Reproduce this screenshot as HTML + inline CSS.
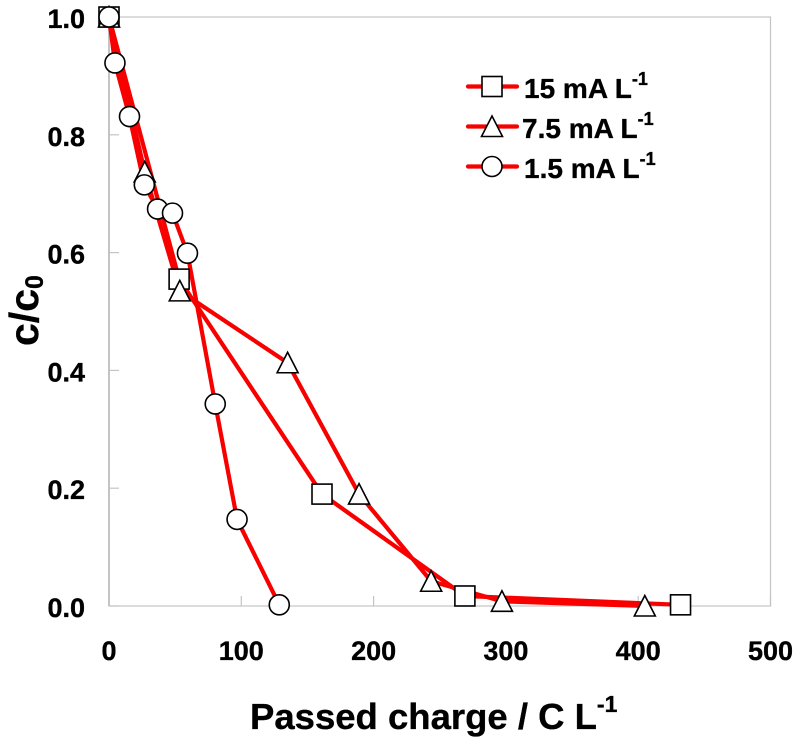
<!DOCTYPE html>
<html lang="en">
<head>
<meta charset="utf-8">
<title>Passed charge chart</title>
<style>
html,body{margin:0;padding:0;background:#fff;}
svg{display:block;}
text{font-family:"Liberation Sans",Arial,sans-serif;font-weight:bold;fill:#000;stroke:#000;stroke-width:0.35px;}
</style>
</head>
<body>
<svg id="chart" xmlns="http://www.w3.org/2000/svg" width="800" height="744" viewBox="0 0 800 744">
  <rect width="800" height="744" fill="#fff"/>
  <g id="axes"></g>
  <g id="lines"></g>
  <g id="markers"></g>
  <g id="legend"></g>
  <text x="250" y="729" font-size="36.5">Passed charge / C L<tspan font-size="23" dy="-17">-1</tspan></text>
  <text transform="translate(38,346) rotate(-90)" font-size="41">c/c<tspan font-size="25" dy="5">0</tspan></text>
</svg>
<script>
const xTicks = [0, 100, 200, 300, 400, 500];
const yTicks = [0, 0.2, 0.4, 0.6, 0.8, 1.0];
const seriesNames = ['15 mA L', '7.5 mA L', '1.5 mA L'];
const seriesShapes = ['square', 'triangle', 'circle'];
const x15 = [0, 53, 161, 269, 432];
const y15 = [1.0, 0.555, 0.19, 0.017, 0.002];
const x75 = [0, 27, 53.5, 135, 189, 243.5, 297, 405];
const y75 = [1.0, 0.737, 0.535, 0.413, 0.19, 0.042, 0.008, 0.0];
const x15b = [0, 4.5, 15.5, 26.7, 36.7, 48, 59.3, 80.3, 96.8, 128.7];
const y15b = [1.0, 0.922, 0.831, 0.715, 0.674, 0.667, 0.599, 0.343, 0.147, 0.002];

const NS = 'http://www.w3.org/2000/svg';
const sx = v => 109 + v * (661.5 / 500);
const sy = v => 606 - v * 589;

function mk(parent, tag, attrs) {
  const el = document.createElementNS(NS, tag);
  for (const k in attrs) el.setAttribute(k, attrs[k]);
  parent.appendChild(el);
  return el;
}

function drawMarker(parent, shape, cx, cy) {
  const style = { fill: '#fff', stroke: '#000', 'stroke-width': 1.6 };
  let el;
  if (shape === 'square') {
    el = mk(parent, 'rect', Object.assign({ x: cx - 10, y: cy - 10, width: 20, height: 20 }, style));
  } else if (shape === 'triangle') {
    el = mk(parent, 'polygon', Object.assign({ points: (cx) + ',' + (cy - 10.5) + ' ' + (cx + 10.5) + ',' + (cy + 10) + ' ' + (cx - 10.5) + ',' + (cy + 10), 'stroke-linejoin': 'miter' }, style));
  } else {
    el = mk(parent, 'circle', Object.assign({ cx: cx, cy: cy, r: 10 }, style));
  }
  return el;
}

const axes = document.getElementById('axes');
const frame = mk(axes, 'rect', { x: sx(0), y: sy(1), width: sx(500) - sx(0), height: sy(0) - sy(1), fill: 'none', stroke: '#c4c4c4', 'stroke-width': 1.2 });


const yAxisLine = mk(axes, 'line', { x1: sx(0), x2: sx(0), y1: sy(1), y2: sy(0), stroke: '#c4c4c4', 'stroke-width': 2 });



xTicks.forEach(t => {
  const tick = mk(axes, 'line', { x1: sx(t), x2: sx(t), y1: sy(0), y2: sy(0) - 10, stroke: '#c4c4c4', 'stroke-width': 1.2 });
  
  
  const label = mk(axes, 'text', { x: sx(t), y: 660, 'text-anchor': 'middle', 'font-size': 27 });
  
  
  label.textContent = String(t);
});

yTicks.forEach(t => {
  const tick = mk(axes, 'line', { x1: sx(0), x2: sx(0) + 10, y1: sy(t), y2: sy(t), stroke: '#c4c4c4', 'stroke-width': 1.2 });
  
  
  const label = mk(axes, 'text', { x: 85, y: sy(t) + 11, 'text-anchor': 'end', 'font-size': 27 });
  
  
  label.textContent = t.toFixed(1);
});

const seriesX = [x15, x75, x15b];
const seriesY = [y15, y75, y15b];
const linesG = document.getElementById('lines');
const markersG = document.getElementById('markers');

seriesX.forEach((xs, i) => {
  const pts = xs.map((v, j) => sx(v) + ',' + sy(seriesY[i][j])).join(' ');
  const line = mk(linesG, 'polyline', { points: pts, fill: 'none', stroke: '#f80000', 'stroke-width': 4.2, 'stroke-linejoin': 'round' });
  
  
});

seriesX.forEach((xs, i) => {
  xs.forEach((v, j) => {
    const m = drawMarker(markersG, seriesShapes[i], sx(v), sy(seriesY[i][j]));
    
    
  });
});

const legendG = document.getElementById('legend');
const legendTextX = [524, 522, 524];
seriesNames.forEach((name, i) => {
  const y = 86.5 + i * 40;
  const line = mk(legendG, 'line', { x1: 468, x2: 517, y1: y, y2: y, stroke: '#f80000', 'stroke-width': 4.2, 'stroke-linecap': 'round' });
  
  
  const m = drawMarker(legendG, seriesShapes[i], 492, y);
  
  
  const label = mk(legendG, 'text', { x: legendTextX[i], y: y + 11.5, 'font-size': 28 });
  
  
  label.textContent = name;
  const sup = mk(label, 'tspan', { 'font-size': 18, dy: -13 });
  sup.textContent = '-1';
});
</script>
</body>
</html>
